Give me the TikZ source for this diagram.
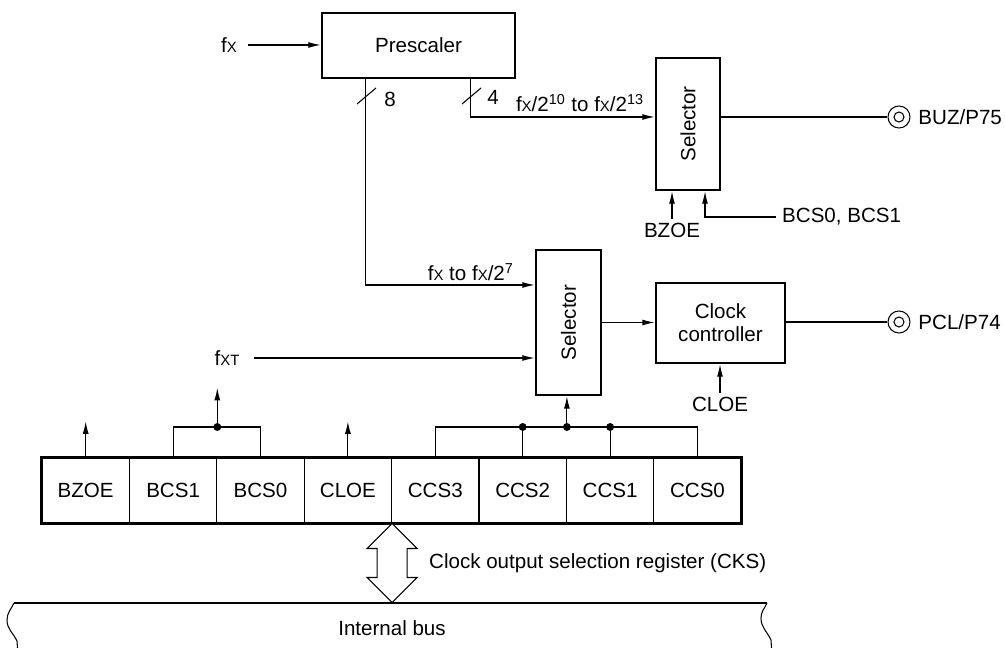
\documentclass[tikz,border=0pt]{standalone}
\usepackage{fontspec}
\setmainfont{Liberation Sans}
\usetikzlibrary{arrows.meta,calc,positioning}
\newcommand{\smx}[1]{{\fontsize{8.5}{8.5}\selectfont #1}}

\begin{document}
\begin{tikzpicture}[x=0.02cm,y=-0.02cm,
    font=\fontsize{11.7}{13}\selectfont,
    blk/.style={draw,line width=1.6pt,inner sep=0pt,align=center},
    cell/.style={draw,line width=0.6pt,minimum width=1.748cm,minimum height=1.3cm,inner sep=0pt},
    sig/.style={line width=0.6pt},
    arr/.style={sig,-{Latex[length=7pt,width=3.4pt]}},
    pin/.style={circle,draw,line width=0.6pt,minimum size=0.44cm,inner sep=0pt},
    dot/.style={circle,fill,inner sep=0pt,minimum size=4.5pt}]
		%%%%% START %%%%%
		\useasboundingbox (0,0) rectangle (1005,648);
		
		% blocks
		\node[blk,minimum width=3.86cm,minimum height=1.3cm] (pre) at (418.5,45.5) {Prescaler};
		\node[blk,minimum width=1.28cm,minimum height=2.64cm] (sel1) at (688,124) {\rotatebox{90}{Selector}};
		\node[blk,minimum width=1.3cm,minimum height=2.9cm] (sel2) at (568.5,322.5) {\rotatebox{90}{Selector}};
		\node[blk,minimum width=2.58cm,minimum height=1.6cm] (ctl) at (720.5,323) {Clock\\controller};
		
		% pins
		\node[pin] (buz) at (899,117) {};
		\draw[sig] (buz.center) circle[radius=0.1cm];
		\node[right=1pt of buz] (buzl) {BUZ/P75};
		\node[pin] (pcl) at (899,322) {};
		\draw[sig] (pcl.center) circle[radius=0.1cm];
		\node[right=1pt of pcl] (pcll) {PCL/P74};
		
		% prescaler in and taps
		\node (fx) at (229,45) {f\smx{X}};
		\draw[arr] ($(fx.east)+(5,0)$) -- (fx.east -| pre.west);
		\draw[arr] ($(pre.south west)+(150,0)$) |- (sel1.west |- 0,117);
		\draw[sig] (462,104) -- (481,88);
		\node (n4) at (493,97) {4};
		\node (lb1) at (580,103) {f\smx{X}/2\textsuperscript{10} to f\smx{X}/2\textsuperscript{13}};
		\draw[arr] ($(pre.south west)+(45,0)$) |- (sel2.west |- 0,285);
		\draw[sig] (357,104) -- (376,88);
		\node (n8) at (390,99) {8};
		\node[anchor=east] (lb2) at (520,272) {f\smx{X} to f\smx{X}/2\textsuperscript{7}};
		\node (fxt) at (227,358) {f\smx{XT}};
		\draw[arr] ($(fxt.east)+(8,0)$) -- (sel2.west |- fxt);
		
		% selector 1
		\draw[sig] (sel1.east |- buz) -- (buz.west);
		\node[inner sep=2pt] (bzoe) at (672,230) {BZOE};
		\draw[arr] (bzoe.north) -- (bzoe.north |- sel1.south);
		\node[anchor=west] (bcs) at (776,217) {BCS0, BCS1};
		\draw[arr] (bcs.west) -| ($(sel1.south)+(17,0)$);
		
		% selector 2 and clock controller
		\draw[arr] (sel2.east) -- (sel2.east -| ctl.west);
		\draw[sig] (ctl.east |- pcl) -- (pcl.west);
		\node[inner sep=2pt] (cloe) at (720,404) {CLOE};
		\draw[arr] (cloe.north) -- (cloe.north |- ctl.south);
		
		% register
		\foreach \n [count=\i] in {BZOE,BCS1,BCS0,CLOE,CCS3,CCS2,CCS1,CCS0}
			\node[cell] (r\i) at ({42+87.4*(\i-0.5)},490.5) {\n};
		\draw[line width=1.6pt] (r1.north west) rectangle (r8.south east);
		
		\draw[arr] (r1.north) -- ++(0,-36);
		\draw[arr] (r4.north) -- ++(0,-36);
		\draw[sig] (r2.north) |- (r2.north east |- 0,427) -| (r3.north);
		\node[dot] (jb) at (r2.north east |- 0,427) {};
		\draw[arr] (jb.center) -- ++(0,-39);
		\draw[sig] (r5.north) |- (r6.north east |- 0,427) -| (r8.north);
		\node[dot] (jc) at (r6.north east |- 0,427) {};
		\node[dot] (jc2) at (r6.north |- jc) {};
		\node[dot] (jc1) at (r7.north |- jc) {};
		\draw[sig] (r6.north) -- (jc2.center);
		\draw[sig] (r7.north) -- (jc1.center);
		\draw[arr] (jc.center) -- (jc.center |- sel2.south);
		
		% register <-> bus
		\coordinate (da) at (r4.south east);
		\draw[sig,fill=white] (da) -- ++(25,25) -- ++(-10,0) -- ++(0,29) -- ++(10,0)
			-- ++(-25,25) -- ++(-25,-25) -- ++(10,0) -- ++(0,-29) -- ++(-10,0) -- cycle;
		\node[anchor=west] (cks) at (423,563) {Clock output selection register (CKS)};
		
		% internal bus
		\draw[sig] (14,603) -- (767,603);
		\draw[sig] (14,603) to[out=-115,in=90] (7,620) to[out=-90,in=115] (17,641) -- (17.5,648);
		\draw[sig] (767,603) to[out=-115,in=90] (761,618) to[out=-90,in=115] (771,640) -- (771.5,648);
		\node (bus) at (392,628) {Internal bus};
		%%%%% END %%%%%
	\end{tikzpicture}
\end{document}
